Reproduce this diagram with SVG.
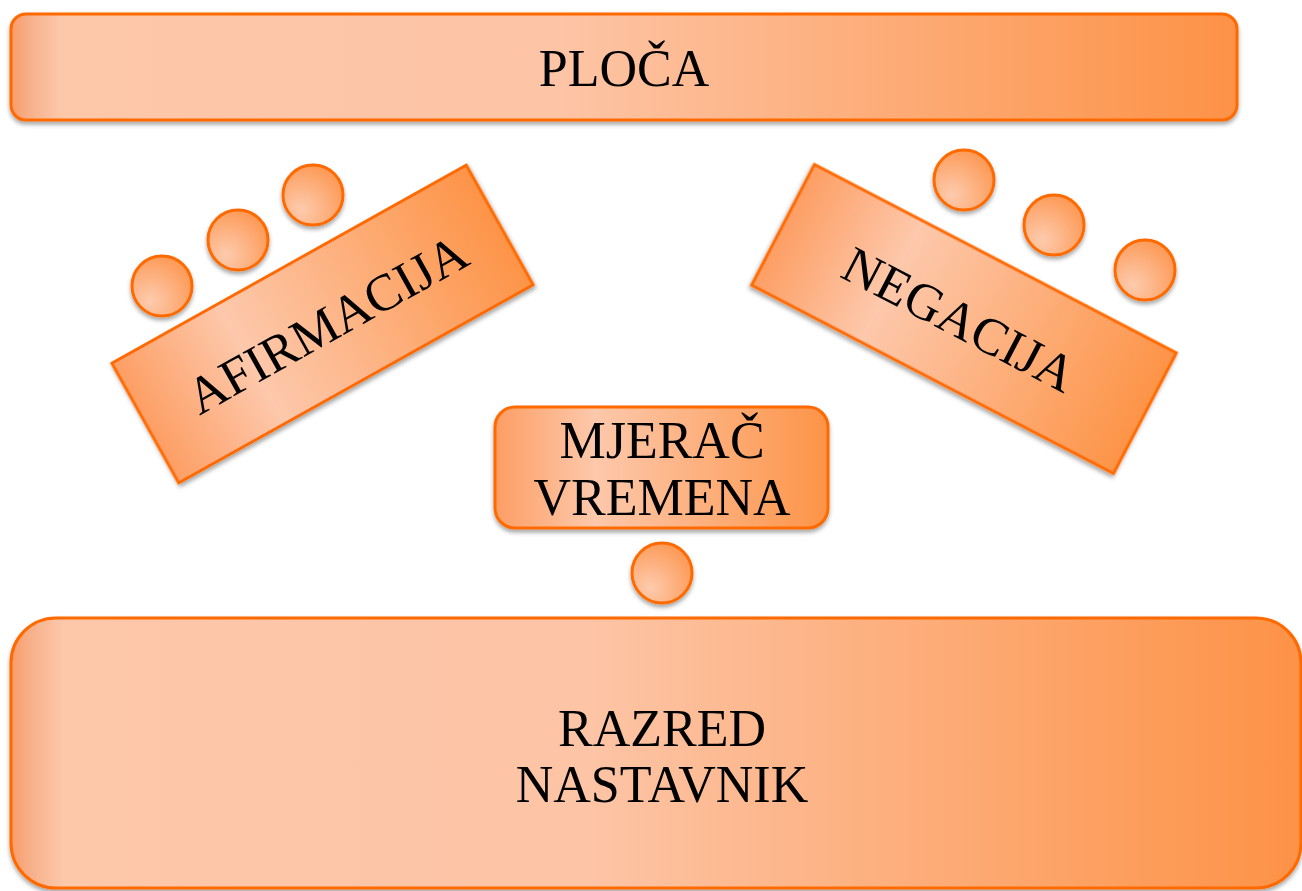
<svg xmlns="http://www.w3.org/2000/svg" width="1302" height="891" viewBox="0 0 1302 891">
<defs>
<linearGradient id="gBar" x1="0" y1="0" x2="1" y2="0">
<stop offset="0" stop-color="#FB9B68"/>
<stop offset="0.015" stop-color="#F6B08A"/>
<stop offset="0.04" stop-color="#FDC7AA"/>
<stop offset="0.45" stop-color="#FDC4A5"/>
<stop offset="1" stop-color="#FD9247"/>
</linearGradient>
<linearGradient id="gBox" x1="0" y1="0" x2="1" y2="0">
<stop offset="0" stop-color="#FD9E64"/>
<stop offset="0.3" stop-color="#FDC8AB"/>
<stop offset="1" stop-color="#FD9448"/>
</linearGradient>
<radialGradient id="gCirc" cx="0.3" cy="0.75" r="0.85">
<stop offset="0" stop-color="#FDCBAE"/>
<stop offset="1" stop-color="#FD9650"/>
</radialGradient>
<filter id="sh" x="-10%" y="-20%" width="120%" height="150%">
<feDropShadow dx="0" dy="3" stdDeviation="2.2" flood-color="#000" flood-opacity="0.35"/>
</filter>
<filter id="shc" x="-30%" y="-30%" width="160%" height="170%">
<feDropShadow dx="0" dy="3" stdDeviation="2.2" flood-color="#000" flood-opacity="0.35"/>
</filter>
</defs>
<style>
.box{stroke:#FF6A00;stroke-width:3;filter:url(#sh)}
.circ{fill:url(#gCirc);stroke:#FF6A00;stroke-width:3;filter:url(#shc)}
.t{font-family:"Liberation Serif","Times New Roman",serif;font-size:52px;fill:#000;text-anchor:middle}
</style>
<rect width="1302" height="891" fill="#fff"/>

<g id="ploca">
<rect class="box" x="11" y="14" width="1226" height="106" rx="15" fill="url(#gBar)"/>
<text class="t" x="624" y="86">PLOČA</text>
</g>

<g id="afirmacija" transform="translate(322.5,324) rotate(-29.2)">
<rect class="box" x="-203" y="-68.5" width="406" height="137" fill="url(#gBox)"/>
<text class="t" x="4" y="20">AFIRMACIJA</text>
</g>

<g id="negacija" transform="translate(964,319) rotate(27.5)">
<rect class="box" x="-204" y="-68" width="408" height="136" fill="url(#gBox)"/>
<text class="t" x="-4" y="20">NEGACIJA</text>
</g>

<g id="afirmacija-krug-1"><circle class="circ" cx="162" cy="286" r="30"/></g>
<g id="afirmacija-krug-2"><circle class="circ" cx="238" cy="240" r="30"/></g>
<g id="afirmacija-krug-3"><circle class="circ" cx="313" cy="195" r="30"/></g>

<g id="negacija-krug-1"><circle class="circ" cx="964" cy="180" r="30"/></g>
<g id="negacija-krug-2"><circle class="circ" cx="1054" cy="225" r="30"/></g>
<g id="negacija-krug-3"><circle class="circ" cx="1145" cy="270" r="30"/></g>

<g id="mjerac-vremena">
<rect class="box" x="495" y="407" width="333" height="121" rx="20" fill="url(#gBox)"/>
<text class="t" x="662" y="458">MJERAČ</text>
<text class="t" x="662" y="515">VREMENA</text>
</g>

<g id="mjerac-krug"><circle class="circ" cx="662" cy="573" r="30"/></g>

<g id="razred-nastavnik">
<rect class="box" x="11" y="618" width="1290" height="270" rx="45" fill="url(#gBar)"/>
<text class="t" x="662" y="746">RAZRED</text>
<text class="t" x="662" y="802">NASTAVNIK</text>
</g>
</svg>
